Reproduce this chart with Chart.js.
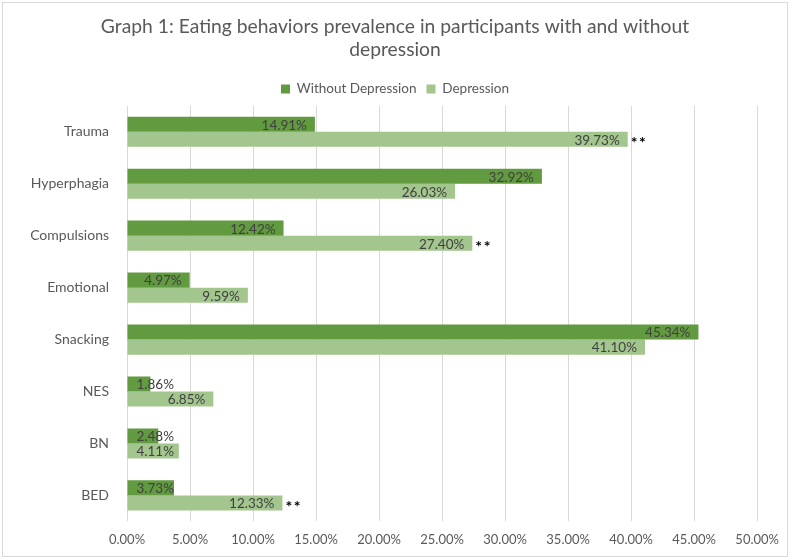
<!DOCTYPE html>
<html>
<head>
<meta charset="utf-8">
<script src="https://cdn.jsdelivr.net/npm/chart.js@4/dist/chart.umd.min.js"></script>
<style>
  html, body { margin: 0; padding: 0; background: #ffffff; }
  #wrap { position: relative; width: 790px; height: 559px; }
  #frame { position: absolute; left: 2px; top: 2px; width: 784px; height: 553px; border: 1px solid #d9d9d9; pointer-events: none; }
  canvas { position: absolute; left: 0; top: 0; }
</style>
</head>
<body>
<div id="wrap">
  <canvas id="c" width="790" height="559"></canvas>
  <div id="frame"></div>
</div>
<script>
const categories = ["Trauma", "Hyperphagia", "Compulsions", "Emotional", "Snacking", "NES", "BN", "BED"];
const withoutDepression = [14.91, 32.92, 12.42, 4.97, 45.34, 1.86, 2.48, 3.73];
const depression = [39.73, 26.03, 27.40, 9.59, 41.10, 6.85, 4.11, 12.33];
const depressionSignificance = ["**", "", "**", "", "", "", "", "**"];
const xTicks = [0, 5, 10, 15, 20, 25, 30, 35, 40, 45, 50];
const titleLines = ["Graph 1: Eating behaviors prevalence in participants with and without", "depression"];

const FONT = "Lato, 'Liberation Sans', sans-serif";

const labelPlugin = {
  id: 'barLabels',
  afterDatasetsDraw(chart) {
    const ctx = chart.ctx;
    ctx.save();
    chart.data.datasets.forEach((ds, di) => {
      const meta = chart.getDatasetMeta(di);
      meta.data.forEach((bar, i) => {
        const txt = ds.data[i].toFixed(2) + '%';
        ctx.font = "13.5px " + FONT;
        const w = ctx.measureText(txt).width;
        const right = Math.max(bar.x - 8, bar.base + 9 + w);
        ctx.fillStyle = '#404040';
        ctx.textAlign = 'right';
        ctx.textBaseline = 'middle';
        ctx.fillText(txt, right, bar.y + 1);
        if (di === 1 && depressionSignificance[i]) {
          ctx.font = "bold 16px " + FONT;
          ctx.fillStyle = '#000000';
          ctx.textAlign = 'left';
          const s = depressionSignificance[i];
          let x = bar.x + 3;
          for (const ch of s) {
            ctx.fillText(ch, x, bar.y + 4);
            x += ctx.measureText(ch).width + 1.5;
          }
        }
      });
    });
    ctx.restore();
  }
};

new Chart(document.getElementById('c'), {
  type: 'bar',
  data: {
    labels: categories,
    datasets: [
      { label: 'Without Depression', data: withoutDepression, backgroundColor: '#619a3f', categoryPercentage: 0.58, barPercentage: 1.0 },
      { label: 'Depression', data: depression, backgroundColor: '#a3c68e', categoryPercentage: 0.58, barPercentage: 1.0 }
    ]
  },
  options: {
    indexAxis: 'y',
    responsive: false,
    animation: false,
    layout: { padding: { left: 29, right: 29, top: 0, bottom: 0 } },
    plugins: {
      title: {
        display: true,
        text: titleLines,
        color: '#595959',
        font: { family: FONT, size: 19.3, weight: 'normal', lineHeight: 1.2 },
        padding: { top: 15, bottom: 11 }
      },
      legend: {
        display: true,
        position: 'top',
        labels: {
          color: '#595959',
          font: { family: FONT, size: 13.5 },
          boxWidth: 9,
          boxHeight: 9,
          padding: 10
        }
      },
      tooltip: { enabled: false }
    },
    scales: {
      x: {
        min: 0,
        max: 50,
        afterBuildTicks(scale) { scale.ticks = xTicks.map(v => ({ value: v })); },
        ticks: {
          color: '#595959',
          font: { family: FONT, size: 13 },
          padding: 11,
          callback: (v) => Number(v).toFixed(2) + '%'
        },
        grid: { color: '#d9d9d9', lineWidth: 1, drawTicks: false },
        border: { display: false }
      },
      y: {
        afterFit(scale) { scale.width = 98; },
        ticks: {
          color: '#595959',
          font: { family: FONT, size: 14 },
          padding: 18
        },
        grid: { display: false, drawTicks: false },
        border: { display: false }
      }
    }
  },
  plugins: [labelPlugin]
});
</script>
</body>
</html>
